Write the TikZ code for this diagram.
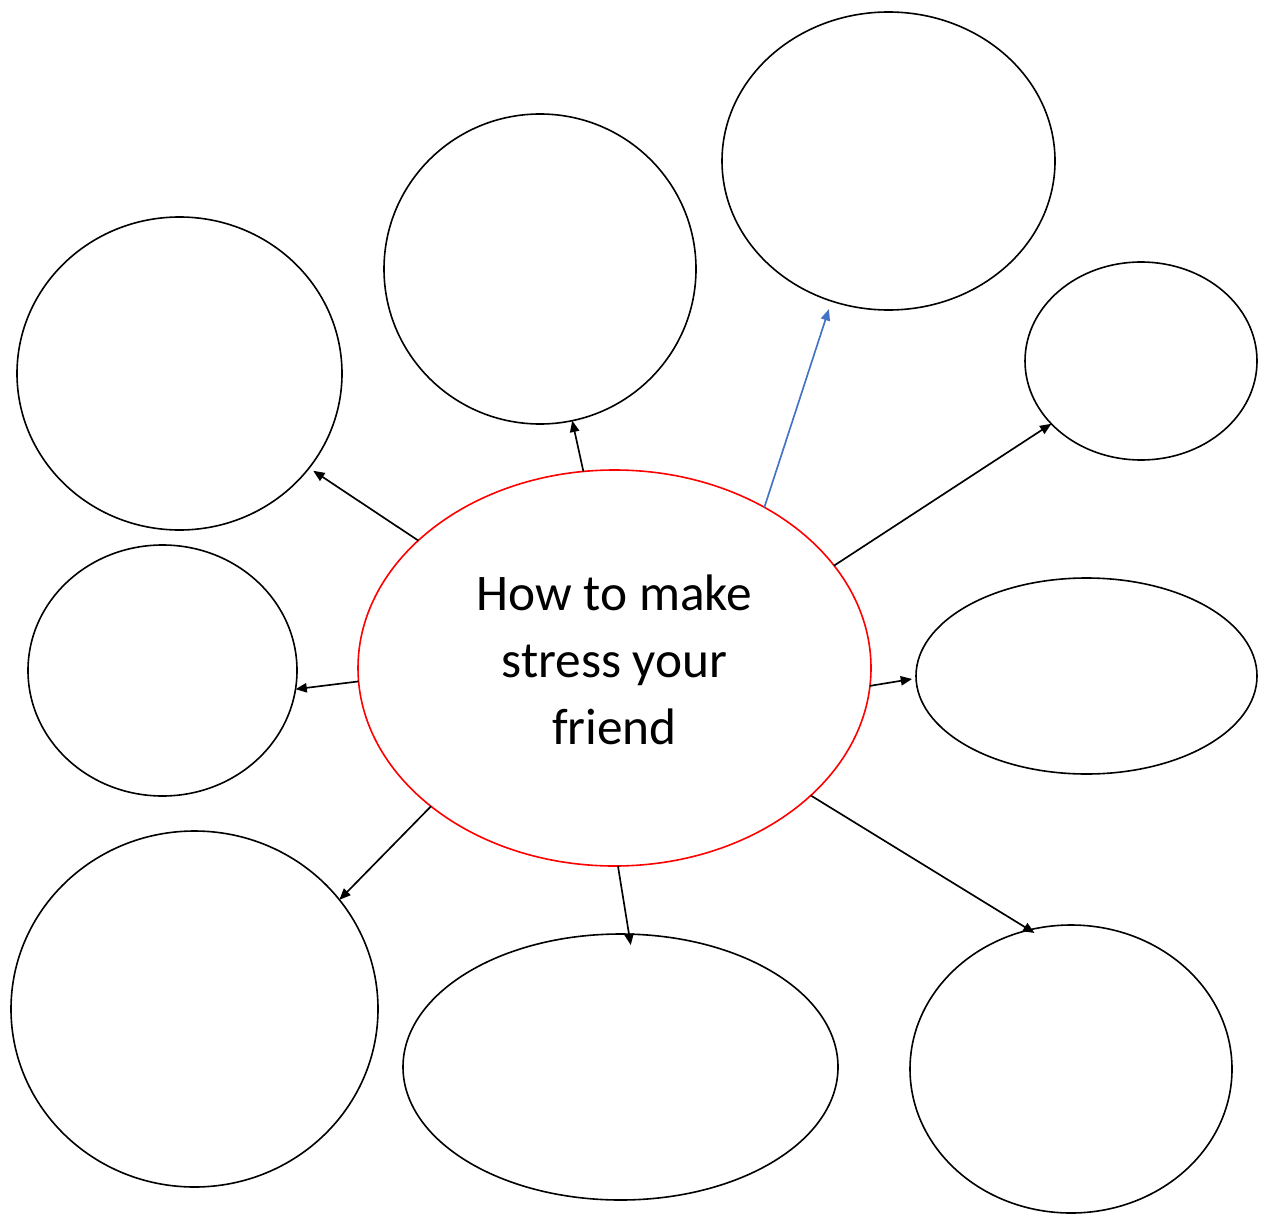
\documentclass[tikz,border=0pt]{standalone}
\usepackage{fontspec}
\setmainfont{Carlito}
\usetikzlibrary{shapes.geometric,arrows.meta}
\definecolor{arrowblue}{RGB}{68,114,196}
\tikzset{
  bubble/.style n args={2}{ellipse, draw=black, line width=1.2pt, inner sep=0pt, outer sep=0pt,
     minimum width=#1*1.5pt, minimum height=#2*1.5pt},
  link/.style={line width=1.25pt, -{Triangle[length=8.5pt,width=7pt]}},
}
\begin{document}
\begin{tikzpicture}[x=0.75pt,y=-0.75pt]
\useasboundingbox (0,0) rectangle (1262,1216);
\node[bubble={162.5}{156.5}] (tl) at (179.5,373.5) {};
\node[bubble={156}{155}] (tm) at (540,269) {};
\node[bubble={166.5}{149}] (tr) at (888.5,161) {};
\node[bubble={116}{99}] (rs) at (1141,361) {};
\node[bubble={134.5}{125.5}] (lm) at (162.5,670.5) {};
\node[bubble={170.5}{98}] (rm) at (1086.5,676) {};
\node[bubble={183.5}{178}] (bl) at (194.5,1009) {};
\node[bubble={217.5}{133}] (bm) at (620.5,1067) {};
\node[bubble={161}{144}] (br) at (1071,1069) {};
\node[bubble={256.5}{198}, draw=red] (c) at (614.5,668) {};
\node[align=center, font=\fontsize{38.5pt}{50pt}\selectfont] (t) at (614.5,660) {How to make\\stress your\\friend};
\draw[link] (c.147.4) -- ([shift={(4,3)}]tl.-36.1);
\draw[link] (c.99.8) -- (tm.-78.1);
\draw[link, draw=arrowblue, fill=arrowblue] (c.47.4) -- ([shift={(-3,8)}]tr.-112.6);
\draw[link] (c.25.5) -- (rs.-145.5);
\draw[link] (c.183.3) -- (lm.-8.2);
\draw[link] (c.-4.2) -- ([shift={(-4,0)}]rm.181);
\draw[link] (c.217.1) -- (bl.37.5);
\draw[link] (c.-89) -- ([shift={(1,11)}]bm.86.5);
\draw[link] (c.-33.6) -- ([shift={(1,4)}]br.105.2);
\end{tikzpicture}
\end{document}
